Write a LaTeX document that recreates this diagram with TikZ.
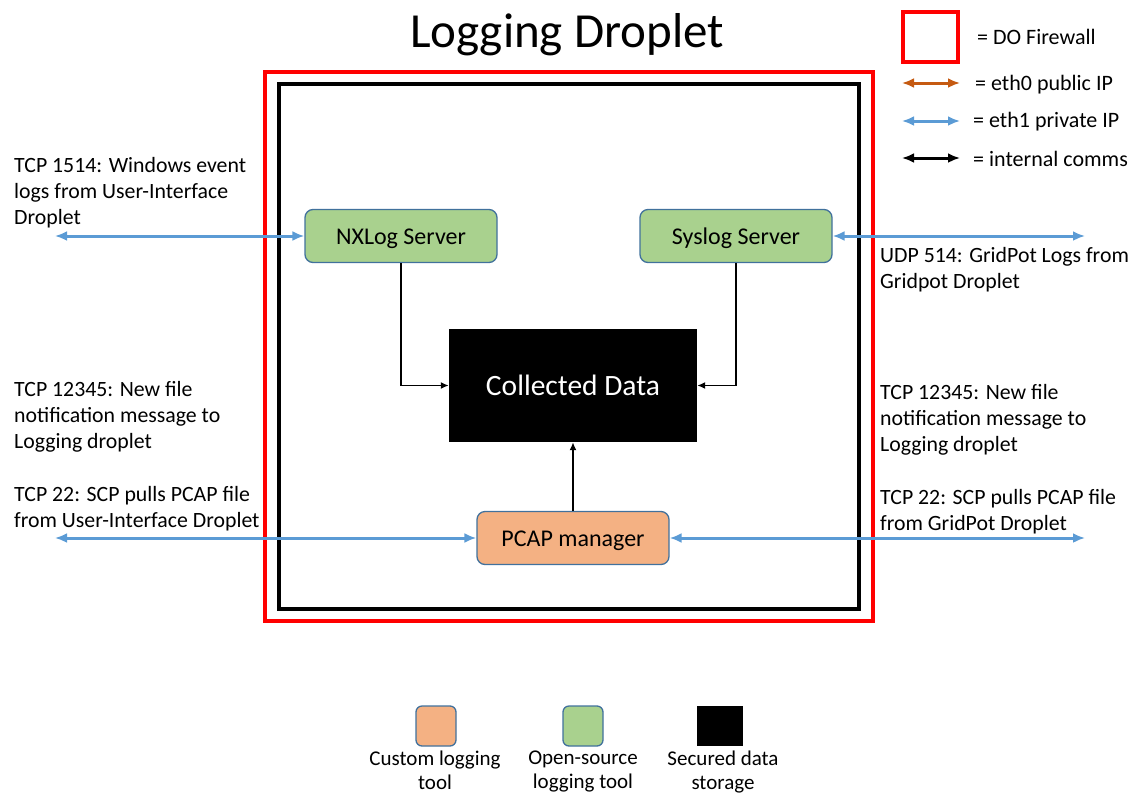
\documentclass[tikz,border=0pt]{standalone}
\usepackage{fontspec}
\setmainfont{Carlito}
\usetikzlibrary{arrows.meta}
\definecolor{fwred}{HTML}{FF0000}
\definecolor{publine}{HTML}{C55A11}
\definecolor{privline}{HTML}{5B9BD5}
\definecolor{osgreen}{HTML}{A9D18E}
\definecolor{custorange}{HTML}{F4B183}
\definecolor{boxedge}{HTML}{41719C}
\tikzset{
  tool/.style={draw=boxedge, line width=1.3pt, rounded corners=8pt, minimum height=53pt, minimum width=192pt, font=\fontsize{24}{28}\selectfont, inner sep=0pt, text height=16pt, text depth=0pt},
  opensrc/.style={tool, fill=osgreen},
  custom/.style={tool, fill=custorange},
  store/.style={fill=black, text=white, inner sep=0pt},
  priv/.style={draw=privline, line width=3pt, {Latex[length=12pt,width=10pt]}-{Latex[length=12pt,width=10pt]}},
  pub/.style={draw=publine, line width=3pt, {Latex[length=12pt,width=10pt]}-{Latex[length=12pt,width=10pt]}},
  internal/.style={draw=black, line width=1.6pt, -{Latex[length=8pt,width=7pt]}},
  internalboth/.style={draw=black, line width=3pt, {Latex[length=12pt,width=10pt]}-{Latex[length=12pt,width=10pt]}},
  port/.style={anchor=north west, align=left, inner sep=0pt, font=\fontsize{21.8}{26}\selectfont},
  legtext/.style={anchor=west, inner sep=0pt, font=\fontsize{22}{26}\selectfont},
  swatchtext/.style={anchor=north, align=center, inner sep=0pt, font=\fontsize{21}{24}\selectfont},
}
\begin{document}
\begin{tikzpicture}[x=1pt, y=-1pt]
\useasboundingbox (0,0) rectangle (1135,793);

% title
\node[anchor=base, font=\fontsize{49}{54}\selectfont, inner sep=0pt] (title) at (567,47) {Logging Droplet};

% firewall and droplet boundaries
\draw[fwred, line width=4pt] (265,72) rectangle (873,621);
\draw[black, line width=4pt] (279,84) rectangle (859,609);

% services
\node[opensrc] (nx) at (401,236) {NXLog Server};
\node[opensrc] (sys) at (736,236) {Syslog Server};
\node[store, minimum width=248pt, minimum height=113pt, font=\fontsize{29.5}{34}\selectfont] (data) at (573,385.5) {Collected Data};
\node[custom] (pcap) at (573,538) {PCAP manager};

% external endpoints
\coordinate (nxout) at (55,236);
\coordinate (sysout) at (1085,236);
\coordinate (pcapl) at (55,538);
\coordinate (pcapr) at (1085,538);

\draw[priv] (nxout) -- (nx.west);
\draw[priv] (sys.east) -- (sysout);
\draw[priv] (pcapl) -- (pcap.west);
\draw[priv] (pcap.east) -- (pcapr);

% internal flows
\draw[internal] (nx.south) |- (data.west);
\draw[internal] (sys.south) |- (data.east);
\draw[internal] (pcap.north) -- (data.south);

% port labels, left
\node[port] (l1) at (14,157.5) {TCP 1514: Windows event\\logs from User-Interface\\Droplet};
\node[port] (l2) at (14,381) {TCP 12345: New file\\notification message to\\Logging droplet};
\node[port] (l3) at (14,486.5) {TCP 22: SCP pulls PCAP file\\from User-Interface Droplet};

% port labels, right
\node[port] (r1) at (880,247) {UDP 514: GridPot Logs from\\Gridpot Droplet};
\node[port] (r2) at (880,384.5) {TCP 12345: New file\\notification message to\\Logging droplet};
\node[port] (r3) at (880,489.5) {TCP 22: SCP pulls PCAP file\\from GridPot Droplet};

% legend, top right
\node[draw=fwred, line width=4pt, minimum width=55pt, minimum height=50pt, inner sep=0pt] (kfw) at (930,36.5) {};
\node[legtext] (kfwt) at (977,37) {= DO Firewall};
\coordinate (k0a) at (902,83);
\coordinate (k0b) at (960,83);
\draw[pub] (k0a) -- (k0b);
\node[legtext] (k0t) at (975,85) {= eth0 public IP};
\coordinate (k1a) at (902,121);
\coordinate (k1b) at (960,121);
\draw[priv] (k1a) -- (k1b);
\node[legtext] (k1t) at (973,122) {= eth1 private IP};
\coordinate (k2a) at (902,158);
\coordinate (k2b) at (960,158);
\draw[internalboth] (k2a) -- (k2b);
\node[legtext] (k2t) at (973,159) {= internal comms};

% legend, bottom
\node[custom, minimum width=40pt, minimum height=40pt, rounded corners=6pt] (sw1) at (436,726) {};
\node[opensrc, minimum width=40pt, minimum height=40pt, rounded corners=6pt] (sw2) at (583,726) {};
\node[store, minimum width=46pt, minimum height=40pt] (sw3) at (720,726) {};
\node[swatchtext] (sw1t) at (435,750.5) {Custom logging\\tool};
\node[swatchtext] (sw2t) at (583,750.5) {Open-source\\logging tool};
\node[swatchtext] (sw3t) at (723,750.5) {Secured data\\storage};
\end{tikzpicture}
\end{document}
